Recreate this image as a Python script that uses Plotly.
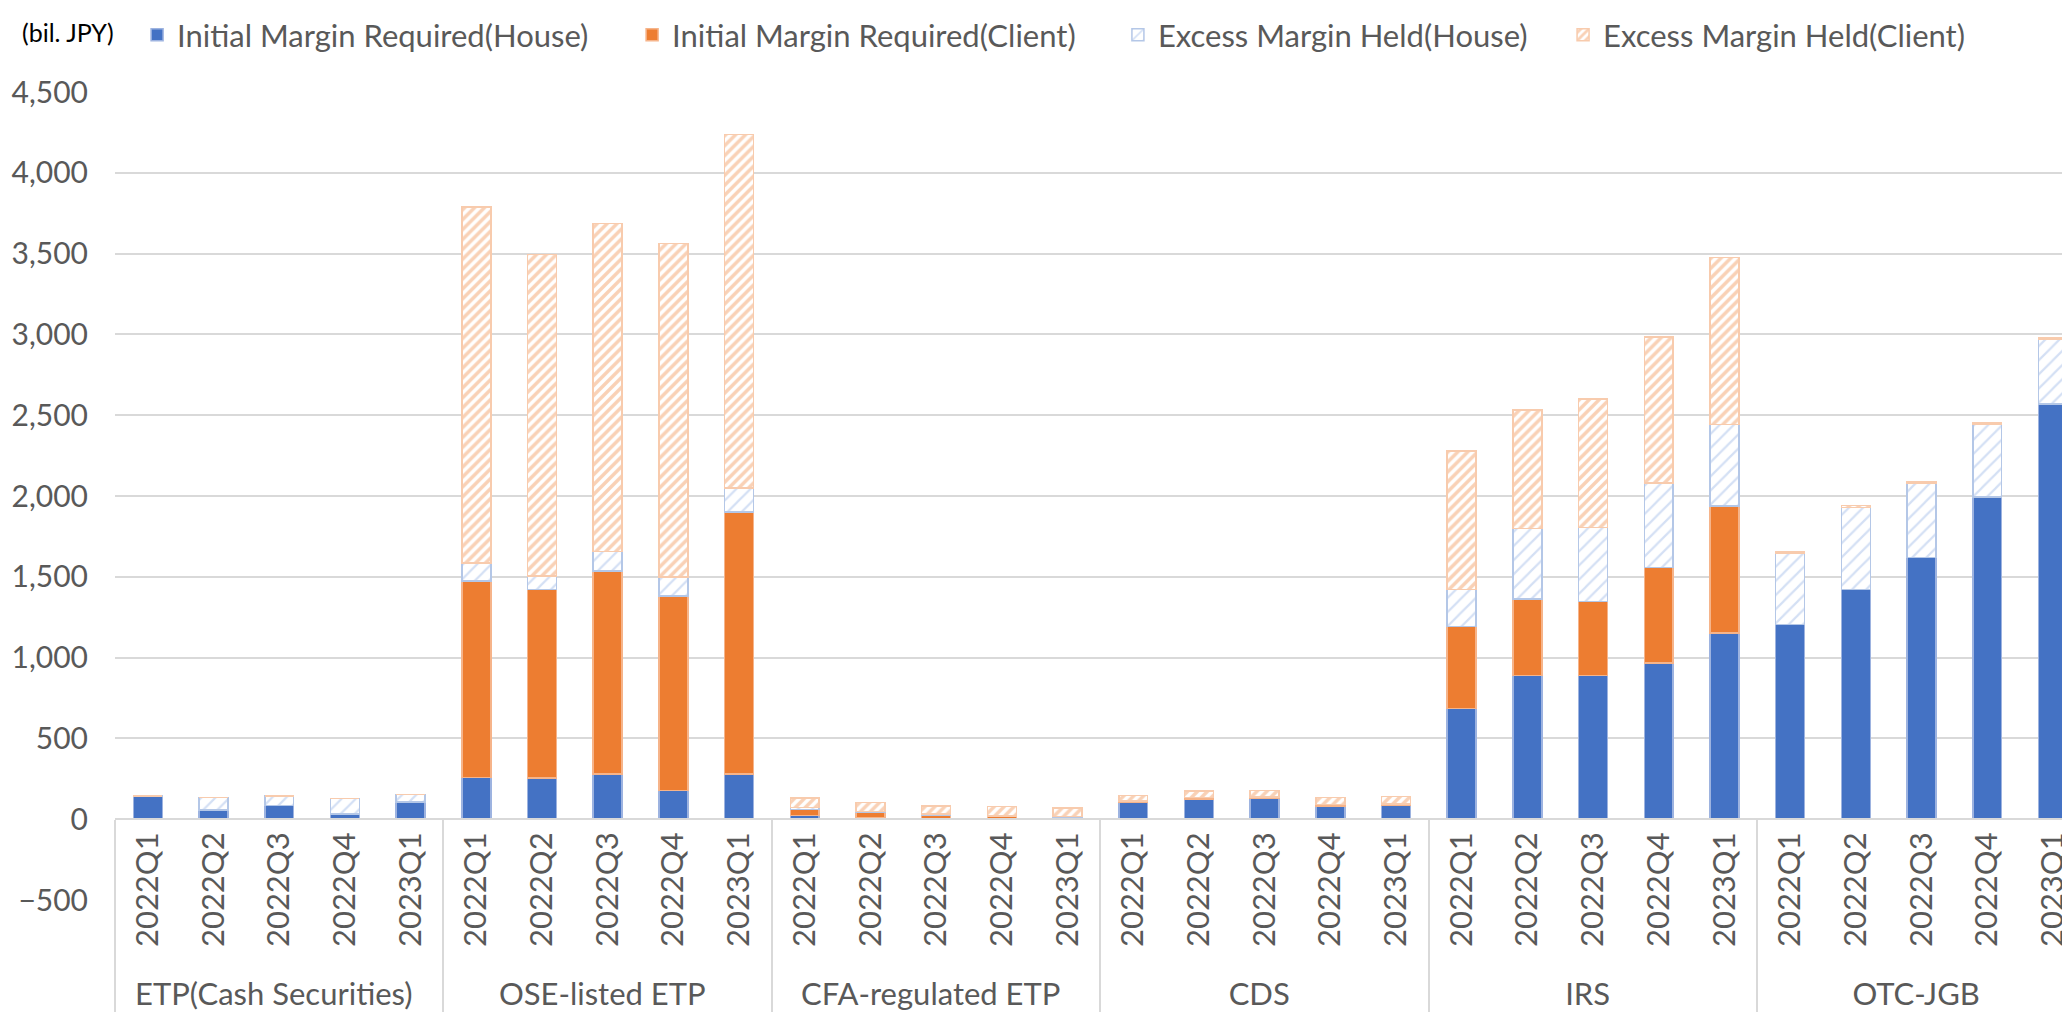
import plotly.graph_objects as go

# products and quarters (two-level category axis)
groups = ["ETP(Cash Securities)", "OSE-listed ETP", "CFA-regulated ETP", "CDS", "IRS", "OTC-JGB"]
quarters = ["2022Q1", "2022Q2", "2022Q3", "2022Q4", "2023Q1"]

# bil. JPY, 5 quarters per product in the order of groups
im_house = [143, 57, 86, 31, 107,
            258, 254, 279, 178, 279,
            22, 8, 4, 2, 2,
            104, 125, 129, 82, 88,
            684, 888, 888, 967, 1151,
            1206, 1421, 1618, 1993, 2570]
im_client = [0, 0, 0, 0, 0,
             1217, 1166, 1258, 1203, 1622,
             39, 35, 23, 16, 12,
             7, 8, 6, 8, 6,
             509, 476, 459, 590, 788,
             0, 0, 0, 0, 0]
excess_house = [1, 78, 57, 98, 45,
                109, 84, 121, 119, 150,
                11, 4, 4, 2, 2,
                1, 1, 1, 1, 1,
                228, 434, 458, 522, 504,
                439, 509, 459, 450, 399]
excess_client = [0, 0, 0, 0, 0,
                 2203, 1992, 2029, 2061, 2186,
                 59, 55, 51, 58, 52,
                 35, 40, 42, 42, 44,
                 858, 733, 794, 905, 1032,
                 9, 11, 9, 9, 8]

x_groups = [g for g in groups for q in quarters]
x_quarters = [q for g in groups for q in quarters]
x = [x_groups, x_quarters]

fig = go.Figure()
fig.add_trace(go.Bar(x=x, y=im_house, name="Initial Margin Required(House)", legend="legend",
                     showlegend=True,
                     marker=dict(color="#4472C4", line=dict(color="#9DB3E0", width=1.5))))
fig.add_trace(go.Bar(x=x, y=im_client, name="Initial Margin Required(Client)", legend="legend2",
                     showlegend=True,
                     marker=dict(color="#ED7D31", line=dict(color="#F6B48A", width=1.5))))
fig.add_trace(go.Bar(x=x, y=excess_house, name="Excess Margin Held(House)", legend="legend3",
                     showlegend=True,
                     marker=dict(color="white", line=dict(color="#B4C7E7", width=1.5),
                                 pattern=dict(shape="/", fgcolor="#A9C1EA", bgcolor="white",
                                              size=10, solidity=0.22))))
fig.add_trace(go.Bar(x=x, y=excess_client, name="Excess Margin Held(Client)", legend="legend4",
                     showlegend=True,
                     marker=dict(color="white", line=dict(color="#F8CBAD", width=1.5),
                                 pattern=dict(shape="/", fgcolor="#F3A46E", bgcolor="white",
                                              size=7, solidity=0.5))))

leg = dict(orientation="h", y=1.104, xanchor="left", yanchor="top",
           font=dict(family="Lato", size=31, color="#595959"), itemwidth=30,
           bgcolor="rgba(0,0,0,0)")

fig.update_layout(
    barmode="stack",
    bargap=0.56,
    width=2062,
    height=1004,
    margin=dict(l=107, r=0, t=80, b=109),
    paper_bgcolor="white",
    plot_bgcolor="white",
    showlegend=True,
    font=dict(family="Lato", size=30, color="#595959"),
    legend=dict(leg, x=0.0113),
    legend2=dict(leg, x=0.2645),
    legend3=dict(leg, x=0.513),
    legend4=dict(leg, x=0.7407),
    annotations=[dict(text="(bil. JPY)", xref="paper", yref="paper", x=-0.0486, y=1.0748,
                      xanchor="left", yanchor="middle", showarrow=False,
                      font=dict(family="Lato", size=25, color="black"))],
)

fig.update_yaxes(range=[-500, 4500], dtick=500, tickformat=",", showgrid=True,
                 gridcolor="#D9D9D9", gridwidth=1.5, zeroline=True, zerolinecolor="#D9D9D9",
                 zerolinewidth=1.5, showline=False, ticklabelstandoff=26,
                 tickfont=dict(size=30, color="#595959"))
fig.update_xaxes(type="multicategory", anchor="free", position=0.1, range=[-0.5, 29.26],
                 showline=True, linecolor="#D9D9D9", linewidth=1.5, showgrid=False,
                 showdividers=True, dividercolor="#D9D9D9", dividerwidth=1.5,
                 tickangle=-90, tickfont=dict(size=31, color="#595959"))

fig.write_html("out.html")
